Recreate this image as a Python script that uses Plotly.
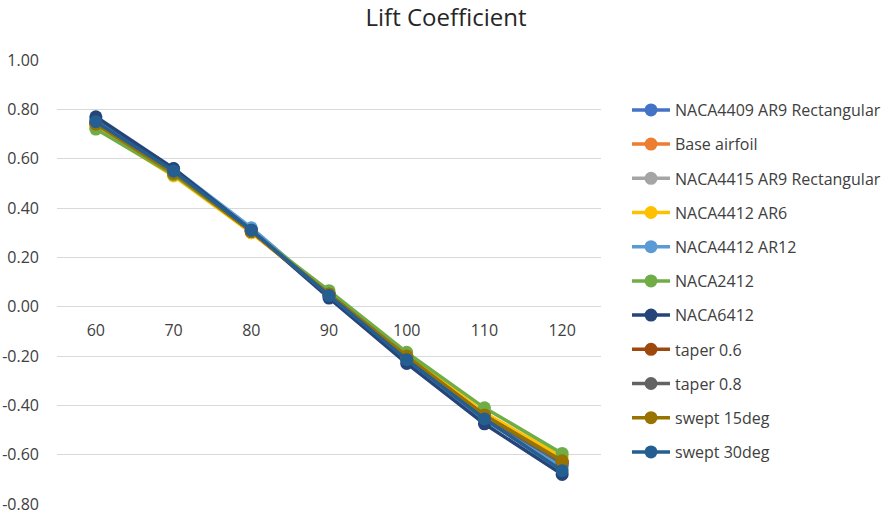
import plotly.graph_objects as go

aoa = [60, 70, 80, 90, 100, 110, 120]

series_names = [
    "NACA4409 AR9 Rectangular", "Base airfoil", "NACA4415 AR9 Rectangular",
    "NACA4412 AR6", "NACA4412 AR12", "NACA2412", "NACA6412",
    "taper 0.6", "taper 0.8", "swept 15deg", "swept 30deg",
]
naca4409_ar9 = [0.75, 0.55, 0.31, 0.05, -0.21, -0.45, -0.64]
base_airfoil = [0.74, 0.54, 0.30, 0.05, -0.20, -0.44, -0.63]
naca4415_ar9 = [0.75, 0.55, 0.31, 0.05, -0.21, -0.45, -0.64]
naca4412_ar6 = [0.725, 0.53, 0.30, 0.055, -0.195, -0.43, -0.61]
naca4412_ar12 = [0.76, 0.56, 0.32, 0.05, -0.21, -0.46, -0.65]
naca2412 = [0.72, 0.535, 0.305, 0.065, -0.185, -0.41, -0.595]
naca6412 = [0.77, 0.56, 0.31, 0.035, -0.23, -0.475, -0.68]
taper_06 = [0.745, 0.545, 0.305, 0.05, -0.205, -0.44, -0.63]
taper_08 = [0.745, 0.545, 0.305, 0.05, -0.205, -0.445, -0.635]
swept_15 = [0.74, 0.54, 0.305, 0.05, -0.20, -0.44, -0.625]
swept_30 = [0.75, 0.55, 0.31, 0.045, -0.215, -0.455, -0.665]

series_values = [naca4409_ar9, base_airfoil, naca4415_ar9, naca4412_ar6, naca4412_ar12,
                 naca2412, naca6412, taper_06, taper_08, swept_15, swept_30]
colors = ["#4472C4", "#ED7D31", "#A5A5A5", "#FFC000", "#5B9BD5", "#70AD47",
          "#264478", "#9E480E", "#636363", "#997300", "#255E91"]

y_ticks = [-0.8, -0.6, -0.4, -0.2, 0.0, 0.2, 0.4, 0.6, 0.8, 1.0]
y_tick_labels = ["-0.80", "-0.60", "-0.40", "-0.20", "0.00", "0.20", "0.40", "0.60", "0.80", "1.00"]

FONT = "Open Sans"
TXT = "#404040"

fig = go.Figure()
for i, (name, vals, col) in enumerate(zip(series_names, series_values, colors)):
    fig.add_trace(go.Scatter(
        x=aoa, y=vals, name=name, mode="lines+markers",
        line=dict(color=col, width=3.5),
        marker=dict(color=col, size=13),
        legendgroup=f"g{i}",
    ))

ymin, ymax = -0.8, 1.0
fig.update_layout(
    width=887, height=515,
    margin=dict(l=57, r=286, t=60, b=11, autoexpand=False),
    paper_bgcolor="white", plot_bgcolor="white",
    font=dict(family=FONT, size=15, color=TXT),
    title=dict(text="Lift Coefficient", x=446 / 887, xanchor="center",
               y=1 - 18 / 515, yanchor="middle",
               font=dict(family=FONT, size=24, color="#262626")),
    xaxis=dict(
        range=[55, 125], tickvals=aoa, ticktext=[str(a) for a in aoa],
        showgrid=False, zeroline=False, showline=False, ticks="",
        anchor="free", position=(0 - ymin) / (ymax - ymin),
        tickfont=dict(size=16, color=TXT), ticklabelstandoff=12,
        automargin=False,
    ),
    yaxis=dict(
        range=[ymin, ymax], tickvals=y_ticks, ticktext=y_tick_labels,
        showgrid=True, gridcolor="#D9D9D9", gridwidth=1,
        zeroline=True, zerolinecolor="#D9D9D9", zerolinewidth=1,
        showline=False, ticks="", tickfont=dict(size=16, color=TXT),
        ticklabelstandoff=17, automargin=False,
    ),
    legend=dict(
        x=(627 - 57) / 544, xanchor="left",
        y=(504 - 93) / 444, yanchor="top",
        font=dict(family=FONT, size=16, color=TXT),
        tracegroupgap=10.4, itemwidth=38,
        bgcolor="rgba(0,0,0,0)",
    ),
)

fig.write_html("out.html")
